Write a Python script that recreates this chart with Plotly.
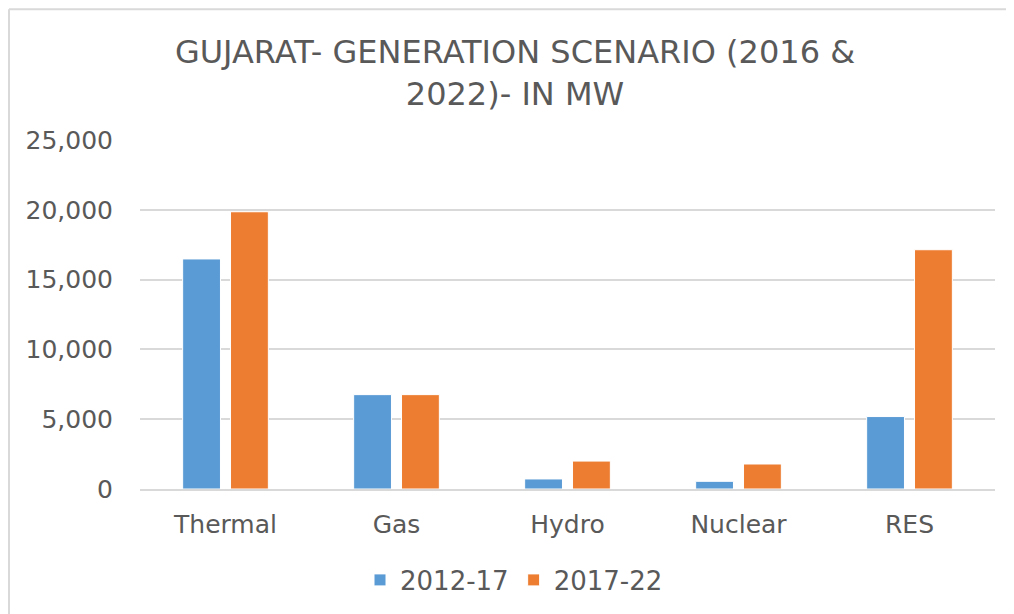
import plotly.graph_objects as go

categories = ["Thermal", "Gas", "Hydro", "Nuclear", "RES"]
series_names = ["2012-17", "2017-22"]
values_2012_17 = [16480, 6760, 720, 550, 5190]
values_2017_22 = [19860, 6760, 2000, 1790, 17140]
y_ticks = [0, 5000, 10000, 15000, 20000, 25000]
y_tick_labels = ["0", "5,000", "10,000", "15,000", "20,000", "25,000"]
title_text = "GUJARAT- GENERATION SCENARIO (2016 &<br>2022)- IN MW"

colors = ["#5B9BD5", "#ED7D31"]
text_color = "#595959"
grid_color = "#d9d9d9"
FONT = "DejaVu Sans"

fig = go.Figure()
for name, vals, col in zip(series_names, [values_2012_17, values_2017_22], colors):
    fig.add_trace(go.Bar(
        x=categories, y=vals, name=name,
        marker=dict(color=col, line=dict(color="white", width=1)),
    ))

# page has an 8px body margin, so the figure is sized to fit the window
W, H = 1006, 606
ml, mr, mt, mb = 132, 19, 132, 124
pw = W - ml - mr
ph = H - mt - mb

fig.update_layout(
    width=W, height=H,
    margin=dict(l=ml, r=mr, t=mt, b=mb, pad=0),
    paper_bgcolor="white", plot_bgcolor="white",
    barmode="group", bargap=0.44, bargroupgap=0.21,
    font=dict(family=FONT, color=text_color, size=25),
    title=dict(text=title_text, x=507 / W, xanchor="center", xref="container",
               y=1 - 55 / H, yanchor="top", yref="container",
               font=dict(family=FONT, size=32, color=text_color)),
    legend=dict(orientation="h", x=(352 - ml) / pw, xanchor="left",
                y=(H - mb - 572) / ph, yanchor="middle",
                font=dict(family=FONT, size=26, color=text_color),
                traceorder="normal", bgcolor="rgba(0,0,0,0)"),
    showlegend=True,
)
fig.update_yaxes(range=[0, 25000], tickvals=y_ticks, ticktext=y_tick_labels,
                 showgrid=True, gridcolor=grid_color, gridwidth=1.5, zeroline=False,
                 showline=False, ticks="", ticklabelstandoff=26,
                 tickfont=dict(family=FONT, size=25, color=text_color))
fig.update_xaxes(showline=True, linecolor=grid_color, linewidth=1.5, ticks="",
                 ticklabelstandoff=12,
                 tickfont=dict(family=FONT, size=25, color=text_color))

# chart-area border (partially visible on top and left)
bx = (1 - ml) / pw
by = (H - mb - 1) / ph
fig.add_shape(type="line", xref="paper", yref="paper", x0=bx, x1=2, y0=by, y1=by,
              line=dict(color=grid_color, width=2))
fig.add_shape(type="line", xref="paper", yref="paper", x0=bx, x1=bx, y0=by, y1=-2,
              line=dict(color=grid_color, width=2))

fig.write_html("out.html")
